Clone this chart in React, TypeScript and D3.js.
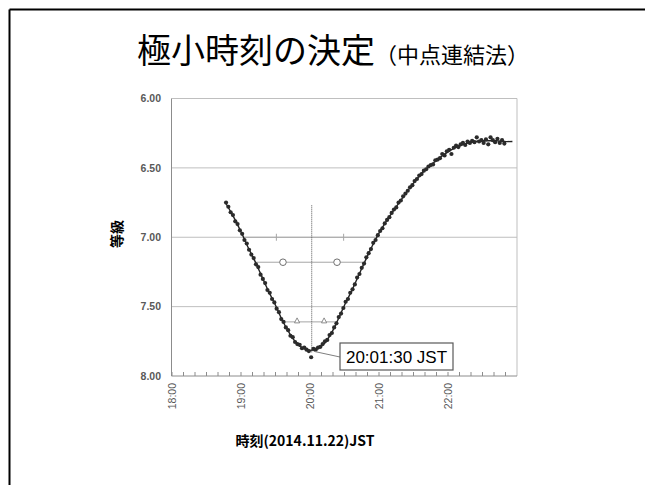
import React from 'react';
import * as d3 from 'd3';

// observation times: minutes after 18:00 JST (2014.11.22)
const obsMinutes = [
  47, 49, 51, 53, 55, 57, 59, 61, 63, 65, 67, 69, 71, 73, 75, 77, 79, 81, 83, 85,
  87, 89, 91, 93, 95, 97, 99, 101, 103, 105, 107, 109, 111, 113, 115, 117, 119, 121, 123, 125,
  127, 129, 131, 133, 135, 137, 139, 141, 143, 145, 147, 149, 151, 153, 155, 157, 159, 161, 163, 165,
  167, 169, 171, 173, 175, 177, 179, 181, 183, 185, 187, 189, 191, 193, 195, 197, 199, 201, 203, 205,
  207, 209, 211, 213, 215, 217, 219, 221, 223, 225, 227, 229, 231, 233, 235, 237, 239, 241, 243, 245,
  247, 249, 251, 253, 255, 257, 259, 261, 263, 265, 267, 269, 271, 273, 275, 277, 279, 281, 283, 285,
  287, 289,
];
const obsMags = [
  6.75, 6.78, 6.82, 6.84, 6.885, 6.905, 6.95, 6.975, 7.02, 7.045, 7.09, 7.125, 7.15, 7.195, 7.215, 7.27, 7.30, 7.33, 7.38, 7.40,
  7.445, 7.47, 7.515, 7.54, 7.59, 7.61, 7.65, 7.67, 7.71, 7.72, 7.755, 7.77, 7.775, 7.80, 7.795, 7.81, 7.82, 7.865, 7.805, 7.81,
  7.795, 7.79, 7.77, 7.75, 7.74, 7.705, 7.69, 7.65, 7.62, 7.575, 7.55, 7.51, 7.465, 7.445, 7.40, 7.375, 7.34, 7.29, 7.265, 7.22,
  7.19, 7.145, 7.115, 7.085, 7.04, 7.02, 6.985, 6.955, 6.935, 6.90, 6.875, 6.855, 6.825, 6.80, 6.785, 6.75, 6.735, 6.705, 6.685, 6.665,
  6.64, 6.625, 6.595, 6.58, 6.555, 6.545, 6.52, 6.51, 6.49, 6.48, 6.475, 6.445, 6.44, 6.43, 6.40, 6.41, 6.38, 6.37, 6.40, 6.355,
  6.34, 6.35, 6.33, 6.32, 6.335, 6.31, 6.32, 6.305, 6.315, 6.28, 6.31, 6.30, 6.32, 6.295, 6.33, 6.28, 6.30, 6.315, 6.29, 6.32,
  6.30, 6.325,
];

// smoothed light curve
const fitMinutes = [
  46.8, 54, 60, 66, 72, 78, 84, 90, 96, 102, 108, 114, 120, 126, 132, 138, 144, 150, 156, 162,
  168, 174, 180, 186, 192, 198, 204, 210, 216, 222, 228, 234, 240, 246, 252, 258, 264, 270, 276, 282,
  288, 296,
];
const fitMags = [
  6.755, 6.86, 6.96, 7.07, 7.17, 7.28, 7.39, 7.49, 7.6, 7.69, 7.76, 7.8, 7.815, 7.805, 7.77, 7.7, 7.6, 7.49, 7.39, 7.28,
  7.17, 7.065, 6.97, 6.89, 6.815, 6.745, 6.675, 6.61, 6.55, 6.5, 6.46, 6.42, 6.385, 6.355, 6.335, 6.32, 6.31, 6.305, 6.305, 6.305,
  6.31, 6.31,
];

// chords (中点連結法)
const chordMags = [7.0, 7.18, 7.61];
const chordStartMin = [61.5, 73, 97];
const chordEndMin = [178.5, 167, 144];
const chordMarkers = ['tick', 'circle', 'triangle'];

const minimumMinute = 121.5; // 20:01:30
const minimumTopMag = 6.77;
const minimumBottomMag = 7.83;
const minimumLabel = '20:01:30 JST';

const yTicks = [6.0, 6.5, 7.0, 7.5, 8.0];
const yTickLabels = ['6.00', '6.50', '7.00', '7.50', '8.00'];
const xTickMinutes = [0, 60, 120, 180, 240];
const xTickLabels = ['18:00', '19:00', '20:00', '21:00', '22:00'];
const xMinorMinutes = d3.range(0, 300, 10);

const titleMain = '極小時刻の決定';
const titleSub = '（中点連結法）';
const yTitle = '等級';
const xTitle = '時刻(2014.11.22)JST';

export default function App() {
  const W = 645;
  const H = 485;
  const left = 171.5;
  const right = 517;
  const top = 98.5;
  const bottom = 376;
  const x = d3.scaleLinear().domain([0, 300]).range([left + 0.5, right]);
  const y = d3.scaleLinear().domain([6, 8]).range([top, bottom]);

  const fitLine = d3
    .line<number>()
    .x((_, i) => x(fitMinutes[i]))
    .y((d) => y(d))
    .curve(d3.curveCatmullRom.alpha(0.5));

  const jp = "'Noto Sans CJK JP', 'Noto Sans', sans-serif";
  const latin = "'Liberation Sans', Arial, sans-serif";
  const gridColor = '#bfbfbf';
  const axisColor = '#8c8c8c';
  const chordColor = '#a6a6a6';

  const minX = x(minimumMinute);
  const minY = y(7.815);
  const boxX = 340;
  const boxY = 343;
  const boxW = 113;
  const boxH = 27;

  return (
    <svg
      width={W}
      height={H}
      style={{ position: 'absolute', left: 0, top: 0, background: '#fff' }}
    >
      {/* slide border */}
      <line x1={9.5} y1={9.5} x2={W} y2={9.5} stroke="#000" strokeWidth={2} />
      <line x1={9.5} y1={9.5} x2={9.5} y2={H} stroke="#000" strokeWidth={2} />

      {/* title */}
      <text x={137} y={63} fontFamily={jp} fontSize={34} fill="#000">
        {titleMain}
        <tspan fontSize={22}>{titleSub}</tspan>
      </text>

      {/* gridlines */}
      {yTicks.slice(0, 4).map((t) => (
        <line key={t} x1={left} x2={right} y1={y(t)} y2={y(t)} stroke={gridColor} strokeWidth={1} />
      ))}
      {/* plot frame */}
      <line x1={right} x2={right} y1={top} y2={bottom} stroke={gridColor} strokeWidth={1} />
      <line x1={left} x2={left} y1={top} y2={bottom} stroke={axisColor} strokeWidth={1} />
      <line x1={left} x2={right} y1={bottom} y2={bottom} stroke={axisColor} strokeWidth={1} />
      {xMinorMinutes.map((m) => (
        <line key={m} x1={x(m)} x2={x(m)} y1={bottom} y2={bottom - 4} stroke={axisColor} strokeWidth={1} />
      ))}

      {/* y tick labels */}
      {yTicks.map((t, i) => (
        <text
          key={t}
          x={161}
          y={y(t)}
          dy="0.35em"
          textAnchor="end"
          fontFamily={latin}
          fontSize={10.5}
          fontWeight={600}
          fill="#595959"
        >
          {yTickLabels[i]}
        </text>
      ))}

      {/* x tick labels */}
      {xTickMinutes.map((m, i) => (
        <text
          key={m}
          transform={`translate(${x(m) + 0.5},383) rotate(-90)`}
          dy="0.35em"
          textAnchor="end"
          fontFamily={latin}
          fontSize={10.5}
          fill="#595959"
        >
          {xTickLabels[i]}
        </text>
      ))}

      {/* axis titles */}
      <text
        transform={`translate(117,234) rotate(-90)`}
        dy="0.35em"
        textAnchor="middle"
        fontFamily={jp}
        fontWeight={700}
        fontSize={14}
        fill="#000"
      >
        {yTitle}
      </text>
      <text x={305} y={446} textAnchor="middle" fontFamily={jp} fontWeight={700} fontSize={14} fill="#000">
        {xTitle}
      </text>

      {/* chords and markers */}
      {chordMags.map((mg, i) => {
        const x1 = x(chordStartMin[i]);
        const x2 = x(chordEndMin[i]);
        const q1 = x1 + (x2 - x1) / 4;
        const q2 = x1 + (3 * (x2 - x1)) / 4;
        const yy = y(mg);
        const kind = chordMarkers[i];
        return (
          <g key={mg}>
            <line x1={x1} x2={x2} y1={yy} y2={yy} stroke={chordColor} strokeWidth={1} />
            {[q1, q2].map((qx, j) =>
              kind === 'tick' ? (
                <line key={j} x1={qx} x2={qx} y1={yy - 3.5} y2={yy + 3.5} stroke={chordColor} strokeWidth={1} />
              ) : kind === 'circle' ? (
                <circle key={j} cx={qx} cy={yy} r={3.3} fill="#fff" stroke="#707070" strokeWidth={1} />
              ) : (
                <path
                  key={j}
                  d={`M${qx},${yy - 4} L${qx + 2.6},${yy + 1} L${qx - 2.6},${yy + 1} Z`}
                  fill="#fff"
                  stroke="#808080"
                  strokeWidth={0.9}
                />
              )
            )}
          </g>
        );
      })}

      {/* vertical minimum line */}
      <line
        x1={minX}
        x2={minX}
        y1={y(minimumTopMag)}
        y2={y(minimumBottomMag)}
        stroke="#555"
        strokeWidth={1}
        strokeDasharray="1,1"
      />

      {/* fitted curve */}
      <path d={fitLine(fitMags) || ''} fill="none" stroke="#222" strokeWidth={1.4} />

      {/* observations */}
      {obsMinutes.map((m, i) => (
        <circle key={m} cx={x(m)} cy={y(obsMags[i])} r={2.1} fill="#2b2b2b" />
      ))}

      {/* annotation */}
      <line x1={minX + 2} y1={minY + 1} x2={boxX} y2={boxY + 14} stroke="#7f7f7f" strokeWidth={1} />
      <rect x={boxX} y={boxY} width={boxW} height={boxH} fill="#fff" stroke="#595959" strokeWidth={1.2} />
      <text
        x={boxX + boxW / 2}
        y={boxY + boxH / 2}
        dy="0.36em"
        textAnchor="middle"
        fontFamily={latin}
        fontSize={17}
        fill="#000"
      >
        {minimumLabel}
      </text>
    </svg>
  );
}
